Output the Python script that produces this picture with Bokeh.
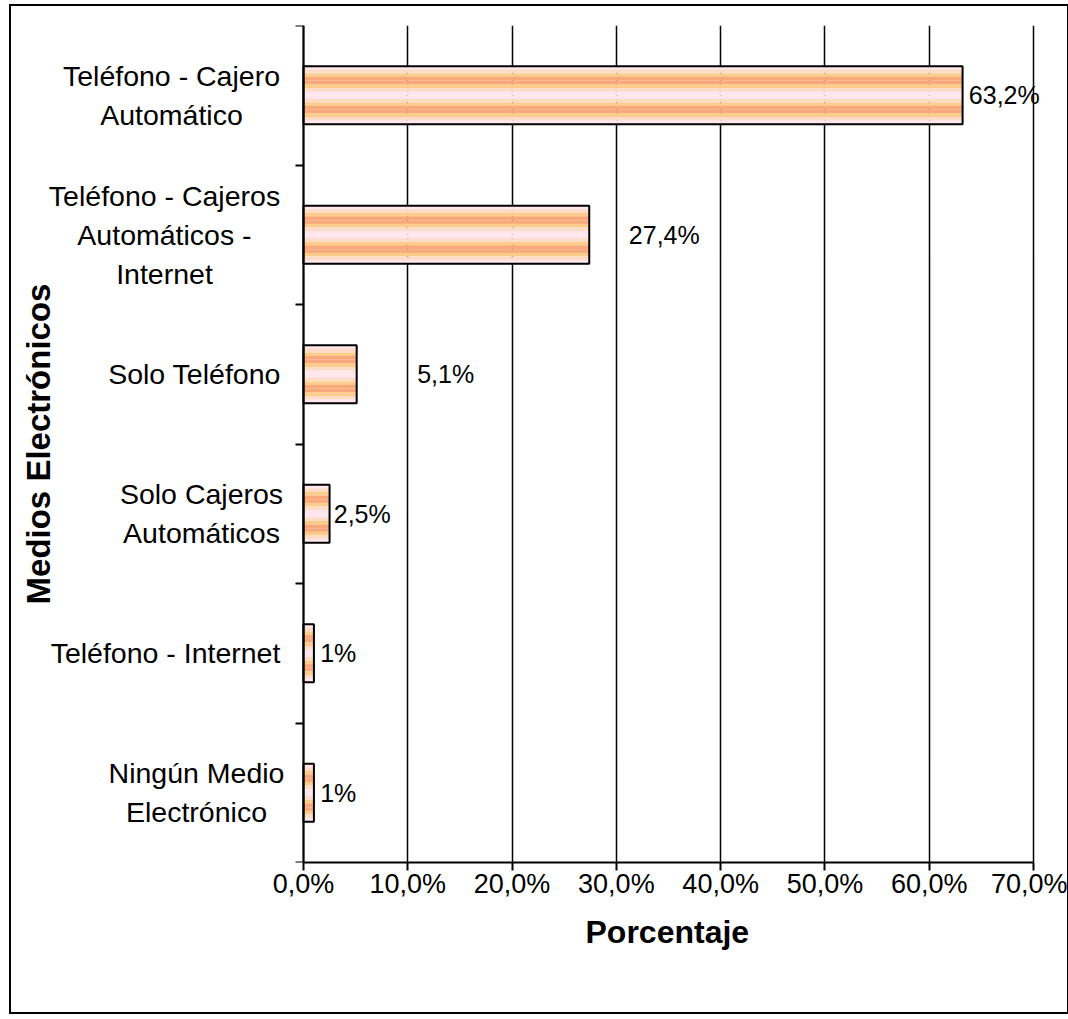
import numpy as np
from bokeh.plotting import figure
from bokeh.models import FixedTicker, Range1d, ColumnDataSource, Title
from bokeh.embed import file_html
from bokeh.resources import INLINE
from bokeh.core.properties import value

# ---- data (top to bottom as in the chart) ----
categories = [
    "Teléfono - Cajero\nAutomático",
    "Teléfono - Cajeros\nAutomáticos -\nInternet",
    "Solo Teléfono",
    "Solo Cajeros\nAutomáticos",
    "Teléfono - Internet",
    "Ningún Medio\nElectrónico",
]
percentages = [63.2, 27.4, 5.1, 2.5, 1.0, 1.0]
value_labels = ["63,2%", "27,4%", "5,1%", "2,5%", "1%", "1%"]
x_ticks = [0, 10, 20, 30, 40, 50, 60, 70]
x_tick_labels = ["0,0%", "10,0%", "20,0%", "30,0%", "40,0%", "50,0%", "60,0%", "70,0%"]

# ---- text placement (x axis units) ----
label_x = [63.8, 31.2, 10.9, 2.9, 1.6, 1.6]            # left edge of value labels
cat_label_x = [-12.66, -13.33, -10.45, -9.78, -13.23, -10.26]  # centre of category labels
y_title_x = -25.41

stripe_colors = ["#FEE6EC", "#FCDCC6", "#FBCC8C", "#F9A87C", "#F9A87C", "#FBCC8C", "#FCDCC6", "#FEE6EC",
                 "#FEE6EC", "#FCDCC6", "#FBCC8C", "#F9A87C", "#F9A87C", "#FBCC8C", "#FCDCC6", "#FEE6EC"]

FONT = "Liberation Sans"
n = len(categories)
y_pos = np.array([n - 0.5 - i for i in range(n)])
bar_h = 0.416

# geometry: the 0..70 span covers 730 px; frame extends left to hold category texts
W, H = 1060, 1010
MBL, MBR, MBT, MBB = 8, 3, 19, 154
PX = 730 / 70.0
zero_px = 303 - 11 - MBL          # distance from frame left to x=0
x_start = -zero_px / PX
x_end = x_start + (W - MBL - MBR) / PX

p = figure(width=W, height=H, output_backend="svg", toolbar_location=None,
           x_range=Range1d(x_start, x_end), y_range=Range1d(0, n),
           min_border_left=MBL, min_border_right=MBR, min_border_top=MBT, min_border_bottom=MBB)
p.styles = {"border": "2px solid black", "margin-left": "9px", "margin-top": "4px"}
p.outline_line_color = None
p.background_fill_color = "white"
p.border_fill_color = "white"

# striped bars
ns = len(stripe_colors)
sh = bar_h / ns
for j, c in enumerate(stripe_colors):
    off = bar_h / 2 - (j + 0.5) * sh
    p.hbar(y=y_pos + off, height=sh * 1.02, left=0, right=percentages,
           fill_color=c, line_color=None)
p.hbar(y=y_pos, height=bar_h, left=0, right=percentages,
       fill_color=None, line_color="black", line_width=2)

# value labels
src = ColumnDataSource(dict(x=label_x, y=y_pos, t=value_labels))
p.text(x="x", y="y", text="t", source=src, text_font=value(FONT), text_font_size="25px",
       text_align="left", text_baseline="middle", text_color="black")

# category labels
csrc = ColumnDataSource(dict(x=cat_label_x, y=y_pos, t=categories))
p.text(x="x", y="y", text="t", source=csrc, text_font=value(FONT), text_font_size="28.5px",
       text_align="center", text_baseline="middle", text_color="black", text_line_height=1.22)

# y axis title
p.text(x=[y_title_x], y=[n / 2], text=["Medios Electrónicos"], angle=np.pi / 2,
       text_font=value(FONT), text_font_size="33px", text_font_style="bold",
       text_align="center", text_baseline="middle", text_color="black")

# x axis
p.xaxis.ticker = FixedTicker(ticks=x_ticks)
p.xaxis.bounds = (0, 70)
p.xaxis.major_label_overrides = {t: l for t, l in zip(x_ticks, x_tick_labels)}
p.xaxis.major_label_text_font = FONT
p.xaxis.major_label_text_font_size = "27px"
p.xaxis.major_label_text_color = "black"
p.xaxis.major_tick_in = 0
p.xaxis.major_tick_out = 8
p.xaxis.major_tick_line_width = 2
p.xaxis.minor_tick_line_color = None
p.xaxis.axis_line_width = 2
p.xaxis.axis_line_color = "black"
p.xaxis.major_label_standoff = -2

# x axis title, centred on the 0..70 span
p.add_layout(Title(text="Porcentaje", align="left", offset=566, standoff=20,
                   text_font=FONT, text_font_style="bold", text_font_size="32px",
                   text_color="black"), "below")

# y axis drawn at x = 0 with ticks at category boundaries
p.yaxis.fixed_location = 0
p.yaxis.ticker = FixedTicker(ticks=[], minor_ticks=list(range(n + 1)))
p.yaxis.major_tick_line_color = None
p.yaxis.major_tick_out = 0
p.yaxis.major_tick_in = 0
p.yaxis.major_label_standoff = 0
p.yaxis.minor_tick_in = 0
p.yaxis.minor_tick_out = 8
p.yaxis.minor_tick_line_width = 2
p.yaxis.minor_tick_line_color = "black"
p.yaxis.axis_line_width = 2
p.yaxis.axis_line_color = "black"

p.ygrid.grid_line_color = None
p.xgrid.ticker = FixedTicker(ticks=x_ticks)
p.xgrid.grid_line_color = "black"
p.xgrid.grid_line_width = 1.5

open("out.html", "w").write(file_html(p, INLINE))
